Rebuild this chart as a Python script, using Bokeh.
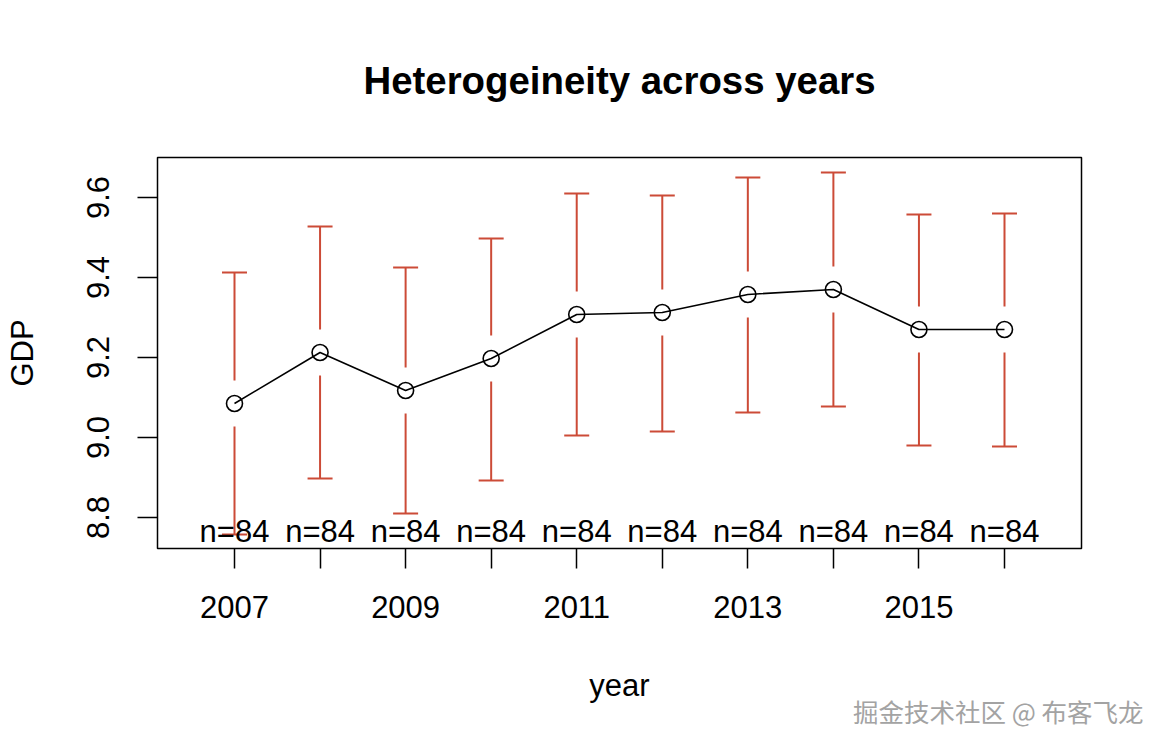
from bokeh.plotting import figure
from bokeh.models import FixedTicker, Title, ColumnDataSource
from bokeh.embed import file_html
from bokeh.resources import INLINE
from bokeh.core.properties import value

# ---- data ----
years = [2007, 2008, 2009, 2010, 2011, 2012, 2013, 2014, 2015, 2016]
means = [9.085, 9.2125, 9.1175, 9.1975, 9.3075, 9.3125, 9.3575, 9.37, 9.27, 9.27]
upper = [9.4125, 9.5275, 9.425, 9.4975, 9.61, 9.605, 9.65, 9.6625, 9.5575, 9.56]
lower = [8.7575, 8.8975, 8.81, 8.8925, 9.005, 9.015, 9.0625, 9.0775, 8.98, 8.9775]
counts = [84, 84, 84, 84, 84, 84, 84, 84, 84, 84]
y_ticks = [8.8, 9.0, 9.2, 9.4, 9.6]
x_labelled = [2007, 2009, 2011, 2013, 2015]

# ---- styles ----
FONT = "Liberation Sans"
RED = "#CC4B37"
px_per_unit = 400.0
gap = 23 / px_per_unit  # gap between point and CI segment (R plotmeans style)

p = figure(width=1164, height=746, output_backend="svg", toolbar_location=None,
           x_range=(2006.1, 2016.9), y_range=(8.7225, 9.7),
           title="Heterogeineity across years",
           x_axis_label="year", y_axis_label="GDP")
p.min_border_left = 157
p.min_border_right = 83
p.min_border_top = 157
p.min_border_bottom = 198

p.title.text_font = FONT
p.title.text_font_size = "38.4px"
p.title.text_font_style = "bold"
p.title.text_color = "black"
p.title.align = "center"
p.title.standoff = 111

p.grid.visible = False
p.outline_line_color = "black"
p.outline_line_width = 1.5
p.background_fill_color = "white"
p.border_fill_color = "white"

for ax in (p.xaxis[0], p.yaxis[0]):
    ax.axis_line_color = None
    ax.major_tick_out = 20
    ax.major_tick_in = 0
    ax.minor_tick_line_color = None
    ax.major_tick_line_color = "black"
    ax.major_tick_line_width = 1.5
    ax.major_label_text_font = FONT
    ax.major_label_text_font_size = "31px"
    ax.major_label_text_color = "black"
    ax.axis_label_text_font = FONT
    ax.axis_label_text_font_size = "31px"
    ax.axis_label_text_font_style = "normal"
    ax.axis_label_text_color = "black"

p.xaxis.ticker = FixedTicker(ticks=years)
p.xaxis.major_label_overrides = {y: (str(y) if y in x_labelled else "") for y in years}
p.xaxis.major_label_standoff = 27
p.xaxis.axis_label_standoff = 47

p.yaxis.ticker = FixedTicker(ticks=y_ticks)
p.yaxis.major_label_overrides = {t: f"{t:.1f}" for t in y_ticks}
p.yaxis.major_label_orientation = "vertical"
p.yaxis.major_label_standoff = 29
p.yaxis.axis_label_standoff = 44

src = ColumnDataSource(dict(
    x=years, mean=means, up=upper, lo=lower,
    up0=[m + gap for m in means], lo0=[m - gap for m in means],
    n=[f"n={c}" for c in counts],
    ybase=[8.7225] * len(years),
))

# CI segments with a gap around the point
p.segment(x0="x", y0="up0", x1="x", y1="up", source=src, line_color=RED, line_width=2)
p.segment(x0="x", y0="lo", x1="x", y1="lo0", source=src, line_color=RED, line_width=2)
# caps
p.scatter(x="x", y="up", source=src, marker="dash", size=25, line_color=RED, line_width=2)
p.scatter(x="x", y="lo", source=src, marker="dash", size=25, line_color=RED, line_width=2)

# mean line and open circles
p.line(x="x", y="mean", source=src, line_color="black", line_width=1.6)
p.scatter(x="x", y="mean", source=src, marker="circle", size=16, fill_color=None,
          line_color="black", line_width=1.6)

# n labels along the bottom
p.text(x="x", y="ybase", text="n", source=src, text_font=value(FONT), text_font_size="31px",
       text_align="center", text_baseline="bottom", text_color="black")

# watermark (bottom right, outside the frame)
wm = Title(text="掘金技术社区 @ 布客飞龙", align="right", offset=-62, standoff=-32,
           text_font="Noto Sans CJK SC", text_font_size="25.5px", text_font_style="normal",
           text_color="#a3a3a3")
p.add_layout(wm, "below")

open("out.html", "w").write(file_html(p, INLINE))
